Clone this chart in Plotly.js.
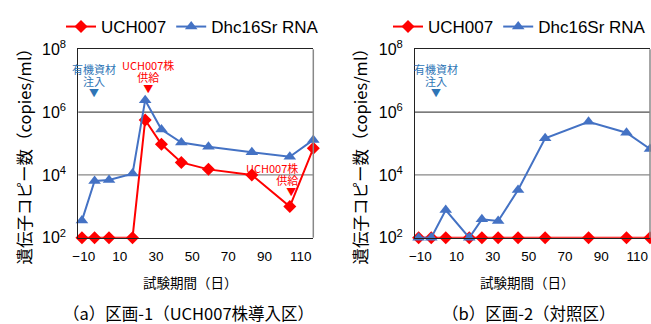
<!DOCTYPE html>
<html>
<head>
<meta charset="utf-8">
<script src="https://cdn.plot.ly/plotly-3.0.1.min.js"></script>
<style>html,body{margin:0;padding:0;background:#fff;}#chart{width:651px;height:324px;}</style>
</head>
<body>
<div id="chart"></div>
<script>
// ---- data ----
const days = [-11, -4, 4, 17, 24, 33, 44, 59, 83, 104, 117];
const plot1UCH = [100, 100, 100, 100, 560000, 94000, 25000, 15000, 10000, 980, 70000];
const plot1Dhc = [350, 6400, 6900, 11000, 2400000, 280000, 107000, 79000, 53000, 38000, 130000];
const plot2UCH = [100, 100, 100, 100, 100, 100, 100, 100, 100, 100, 100];
const plot2Dhc = [100, 100, 760, 100, 385, 340, 3300, 147000, 490000, 220000, 67000];
const xTicks = [-10, 10, 30, 50, 70, 90, 110];
const yTicks = [100, 1e4, 1e6, 1e8];
const yTickText = ['10<sup>2</sup>', '10<sup>4</sup>', '10<sup>6</sup>', '10<sup>8</sup>'];
const seriesNames = ['UCH007', 'Dhc16Sr RNA'];

const RED = '#FF0000', BLUE = '#4472C4', ABLUE = '#2E75B6';
const W = 651, H = 324;
const px = v => v / W, py = v => 1 - v / H;

function tr(y, i, xa, ya, leg) {
  return {
    x: days, y: y, name: seriesNames[i], xaxis: xa, yaxis: ya, legend: leg,
    type: 'scatter', mode: 'lines+markers', cliponaxis: false,
    line: {color: i === 0 ? RED : BLUE, width: 2},
    marker: {symbol: i === 0 ? 'diamond' : 'triangle-up', size: i === 0 ? 10 : 11, color: i === 0 ? RED : BLUE}
  };
}
const data = [
  tr(plot1UCH, 0, 'x', 'y', 'legend'),
  tr(plot1Dhc, 1, 'x', 'y', 'legend'),
  tr(plot2UCH, 0, 'x2', 'y2', 'legend2'),
  tr(plot2Dhc, 1, 'x2', 'y2', 'legend2')
];

const tickFont = {family: 'Liberation Sans, Arial, sans-serif', size: 13.5, color: '#000'};
function xax(dom, anchor) {
  return {domain: dom, anchor: anchor, range: [-13, 117], tickvals: xTicks, ticks: '',
    showgrid: false, zeroline: false, showline: true, linecolor: '#222', linewidth: 1, mirror: true,
    tickfont: tickFont, ticklabelstandoff: 6, fixedrange: true};
}
function yax(dom, anchor) {
  return {domain: dom, anchor: anchor, type: 'log', range: [2, 8], tickvals: yTicks, ticktext: yTickText,
    ticks: '', showgrid: false, zeroline: false, showline: true, linecolor: '#222', linewidth: 1,
    tickfont: {family: 'Liberation Sans, Arial, sans-serif', size: 16, color: '#000'}, ticklabelstandoff: 8, fixedrange: true};
}
const yDom = [py(237.7), py(49.3)];
const cjk = 'Noto Sans CJK JP, sans-serif';

function lineShape(xr, yval, color, w) {
  return {type: 'line', layer: 'below', xref: xr + ' domain', yref: xr === 'x' ? 'y' : 'y2',
    x0: 0, x1: 1, y0: yval, y1: yval, line: {color: color, width: w}};
}
function vShape(xr, color) {
  return {type: 'line', layer: 'above', xref: xr + ' domain', yref: (xr === 'x' ? 'y' : 'y2') + ' domain',
    x0: 1, x1: 1, y0: 0, y1: 1, line: {color: color, width: 1.5}};
}
const shapes = [
  lineShape('x', 1e6, '#222', 1), lineShape('x', 1e4, '#888', 1.3),
  lineShape('x2', 1e6, '#222', 1), lineShape('x2', 1e4, '#888', 1.3),
  vShape('x', '#888'), vShape('x2', '#888'),
  {type: 'rect', layer: 'between', xref: 'x', yref: 'y', x0: 83, x1: 116.5, y0: 3.74, y1: 4.38,
   fillcolor: '#fff', line: {width: 0}}
];

// three-line marker labels: line height from a 9px base font, glyphs at 11px
const s11 = t => '<span style="font-size:11px">' + t + '</span>';
const tri = '<span style="font-size:10px">▼</span>';
function ann(text, x, y, color, size, xr, yr, opts) {
  return Object.assign({text: text, x: x, y: y, xref: xr, yref: yr, showarrow: false,
    font: {family: cjk, size: size, color: color}, xanchor: 'center', yanchor: 'middle'}, opts || {});
}
const annotations = [
  // panel (a)
  ann(s11('有機資材') + '<br>' + s11('注入') + '<br>' + tri, -4.5, py(80), ABLUE, 9, 'x', 'paper'),
  ann(s11('UCH007株') + '<br>' + s11('供給') + '<br>' + tri, 25.6, py(76.5), RED, 9, 'x', 'paper'),
  ann(s11('UCH007株') + '<br>' + s11('供給') + '<br>' + tri + ' ', 109.5, py(179), RED, 9, 'x', 'paper',
      {xanchor: 'right', align: 'right'}),
  // panel (b)
  ann(s11('有機資材') + '<br>' + s11('注入') + '<br>' + tri, -1.2, py(80), ABLUE, 9, 'x2', 'paper'),
  // titles
  ann('遺伝子コピー数（copies/ml）', px(23), py(152.5), '#000', 16.5, 'paper', 'paper', {textangle: -90}),
  ann('遺伝子コピー数（copies/ml）', px(359), py(152.5), '#000', 16.5, 'paper', 'paper', {textangle: -90}),
  ann('試験期間（日）', px(190), py(281.7), '#000', 13.5, 'paper', 'paper'),
  ann('試験期間（日）', px(527), py(281.7), '#000', 13.5, 'paper', 'paper'),
  ann('（a）区画-1（UCH007株導入区）', px(188.5), py(313.3), '#000', 16.5, 'paper', 'paper'),
  ann('（b）区画-2（対照区）', px(528.5), py(313.3), '#000', 16.5, 'paper', 'paper')
];

const legFont = {family: 'Liberation Sans, Arial, sans-serif', size: 17, color: '#000'};
const layout = {
  width: W, height: H, margin: {l: 0, r: 0, t: 0, b: 0, autoexpand: false},
  paper_bgcolor: '#fff', plot_bgcolor: '#fff', showlegend: true,
  xaxis: xax([px(78.3), px(313.3)], 'y'),
  yaxis: yax(yDom, 'x'),
  xaxis2: xax([px(415), px(650)], 'y2'),
  yaxis2: yax(yDom, 'x2'),
  legend: {orientation: 'h', x: px(61), y: py(9), xanchor: 'left', yanchor: 'top', font: legFont,
    bgcolor: 'rgba(0,0,0,0)', itemwidth: 30, tracegroupgap: 0},
  legend2: {orientation: 'h', x: px(388), y: py(9), xanchor: 'left', yanchor: 'top', font: legFont,
    bgcolor: 'rgba(0,0,0,0)', itemwidth: 30, tracegroupgap: 0},
  shapes: shapes, annotations: annotations
};
Plotly.newPlot('chart', data, layout, {displayModeBar: false, staticPlot: true});
</script>
</body>
</html>
